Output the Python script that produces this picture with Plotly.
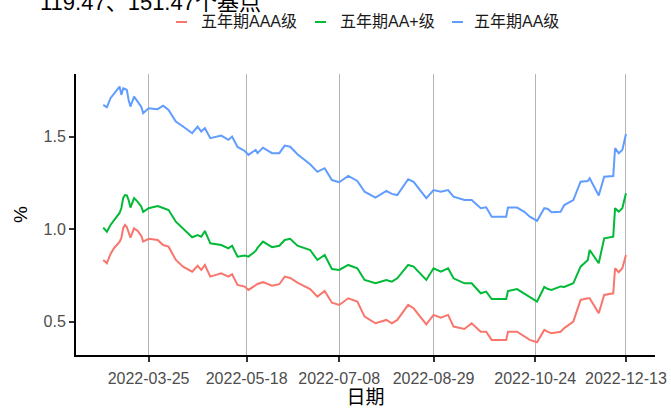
import plotly.graph_objects as go

dates = ["2022-02-28","2022-03-02","2022-03-04","2022-03-06","2022-03-09","2022-03-10","2022-03-11","2022-03-12",
         "2022-03-13","2022-03-14","2022-03-15","2022-03-17","2022-03-19","2022-03-21","2022-03-22","2022-03-25",
         "2022-03-30","2022-04-02","2022-04-05","2022-04-09","2022-04-13","2022-04-18","2022-04-21","2022-04-23",
         "2022-04-25","2022-04-28","2022-05-04","2022-05-08","2022-05-10","2022-05-13","2022-05-17","2022-05-19",
         "2022-05-23","2022-05-24","2022-05-27","2022-06-01","2022-06-05","2022-06-08","2022-06-11","2022-06-15",
         "2022-06-22","2022-06-26","2022-06-30","2022-07-04","2022-07-08","2022-07-13","2022-07-18","2022-07-22",
         "2022-07-28","2022-08-03","2022-08-06","2022-08-09","2022-08-15","2022-08-18","2022-08-25","2022-08-29",
         "2022-09-02","2022-09-06","2022-09-09","2022-09-15","2022-09-19","2022-09-24","2022-09-27","2022-09-30",
         "2022-10-08","2022-10-09","2022-10-14","2022-10-18","2022-10-21","2022-10-25","2022-10-29","2022-10-31",
         "2022-11-02","2022-11-07","2022-11-09","2022-11-14","2022-11-18","2022-11-22","2022-11-23","2022-11-28",
         "2022-12-01","2022-12-06","2022-12-07","2022-12-09","2022-12-11","2022-12-13"]

aaa = [0.834,0.816,0.866,0.899,0.931,0.953,1.007,1.023,1.012,0.985,0.955,1.005,0.991,0.964,0.933,0.948,
       0.942,0.915,0.906,0.834,0.798,0.771,0.803,0.780,0.807,0.744,0.762,0.744,0.757,0.699,0.690,0.672,
       0.699,0.704,0.714,0.695,0.703,0.744,0.737,0.712,0.677,0.636,0.666,0.603,0.591,0.627,0.609,0.528,
       0.492,0.510,0.492,0.510,0.591,0.573,0.486,0.537,0.522,0.537,0.474,0.461,0.492,0.446,0.446,0.402,
       0.402,0.446,0.446,0.419,0.402,0.389,0.456,0.445,0.438,0.446,0.466,0.501,0.618,0.627,0.627,0.546,
       0.645,0.654,0.789,0.768,0.789,0.861]

aa_plus = [1.009,0.987,1.023,1.050,1.088,1.115,1.169,1.185,1.183,1.158,1.117,1.168,1.148,1.122,1.094,1.114,
           1.126,1.115,1.104,1.041,1.005,0.957,0.969,0.960,0.991,0.924,0.915,0.897,0.911,0.852,0.858,0.852,
           0.883,0.899,0.933,0.903,0.911,0.942,0.948,0.911,0.888,0.834,0.861,0.785,0.780,0.807,0.789,0.726,
           0.708,0.726,0.717,0.735,0.807,0.798,0.726,0.789,0.771,0.789,0.735,0.708,0.708,0.654,0.663,0.623,
           0.623,0.666,0.677,0.653,0.636,0.609,0.688,0.677,0.672,0.691,0.688,0.708,0.798,0.834,0.888,0.816,
           0.951,0.960,1.114,1.095,1.114,1.1947]

aa = [1.672,1.659,1.708,1.731,1.771,1.726,1.762,1.758,1.753,1.699,1.663,1.717,1.690,1.661,1.627,1.654,
      1.649,1.668,1.645,1.582,1.555,1.519,1.555,1.528,1.546,1.492,1.506,1.483,1.501,1.445,1.423,1.402,
      1.429,1.411,1.441,1.411,1.411,1.452,1.446,1.405,1.351,1.310,1.330,1.266,1.254,1.288,1.261,1.203,
      1.171,1.207,1.191,1.185,1.270,1.256,1.168,1.212,1.203,1.212,1.176,1.158,1.158,1.114,1.119,1.068,
      1.068,1.117,1.117,1.094,1.068,1.045,1.114,1.110,1.092,1.095,1.131,1.158,1.257,1.261,1.276,1.182,
      1.284,1.288,1.438,1.411,1.429,1.5147]

series_names = ["五年期AAA级", "五年期AA+级", "五年期AA级"]
series_values = [aaa, aa_plus, aa]
colors = ["#F8766D", "#00BA38", "#619CFF"]

x_tick_labels = ["2022-03-25", "2022-05-18", "2022-07-08", "2022-08-29", "2022-10-24", "2022-12-13"]
y_tick_vals = [0.5, 1.0, 1.5]
y_tick_text = ["0.5", "1.0", "1.5"]

title_text = "119.47、151.47个基点"

FONT = "Liberation Sans, Arial, Noto Sans CJK SC, sans-serif"

fig = go.Figure()
for name, vals, col in zip(series_names, series_values, colors):
    fig.add_trace(go.Scatter(x=dates, y=vals, mode="lines", name=name,
                             line=dict(color=col, width=2), showlegend=False))

W, H = 671, 410
L, R, T, B = 76, 16, 74, 55
pw, ph = W - L - R, H - T - B

def px_x(p):
    return (p - L) / pw

def px_y(p):
    return (H - B - p) / ph

annotations = [dict(text=title_text, x=px_x(38), y=px_y(17), xref="paper", yref="paper",
                    xanchor="left", yanchor="bottom", showarrow=False,
                    font=dict(family=FONT, size=22, color="#000000"))]
shapes = []
legend_text_x = [199, 338, 472]
legend_key_x = [(176, 187), (315, 326), (452, 463)]
legend_y = 22
for name, col, tx, (k0, k1) in zip(series_names, colors, legend_text_x, legend_key_x):
    annotations.append(dict(text=name, x=px_x(tx), y=px_y(legend_y), xref="paper", yref="paper",
                            xanchor="left", yanchor="middle", showarrow=False,
                            font=dict(family=FONT, size=16, color="#1A1A1A")))
    shapes.append(dict(type="line", xref="paper", yref="paper", x0=px_x(k0), x1=px_x(k1),
                       y0=px_y(legend_y), y1=px_y(legend_y), line=dict(color=col, width=2)))

fig.update_layout(
    width=W, height=H,
    margin=dict(l=L, r=R, t=T, b=B, autoexpand=False),
    paper_bgcolor="white", plot_bgcolor="white",
    font=dict(family=FONT, color="#4D4D4D"),
    annotations=annotations, shapes=shapes,
    showlegend=False,
)
fig.update_xaxes(
    range=["2022-02-13", "2022-12-29"],
    tickvals=x_tick_labels, ticktext=x_tick_labels,
    showgrid=True, gridcolor="#B4B4B4", gridwidth=1.2,
    showline=True, linecolor="black", linewidth=2,
    ticks="outside", ticklen=5, tickcolor="#333333", tickwidth=1.5,
    ticklabelstandoff=3,
    tickfont=dict(size=16, color="#4D4D4D"),
    title=dict(text="日期", font=dict(size=19, color="#000000"), standoff=3),
    automargin=False, zeroline=False,
)
fig.update_yaxes(
    range=[0.3205, 1.839],
    tickvals=y_tick_vals, ticktext=y_tick_text,
    showgrid=False,
    showline=True, linecolor="black", linewidth=2,
    ticks="outside", ticklen=5, tickcolor="#333333", tickwidth=1.5,
    tickfont=dict(size=16, color="#4D4D4D"),
    title=dict(text="%", font=dict(size=19, color="#000000"), standoff=11),
    automargin=False, zeroline=False,
)

fig.write_html("out.html", config={"displayModeBar": False},
               post_script="document.body.style.margin='0';document.body.style.overflow='hidden';")
